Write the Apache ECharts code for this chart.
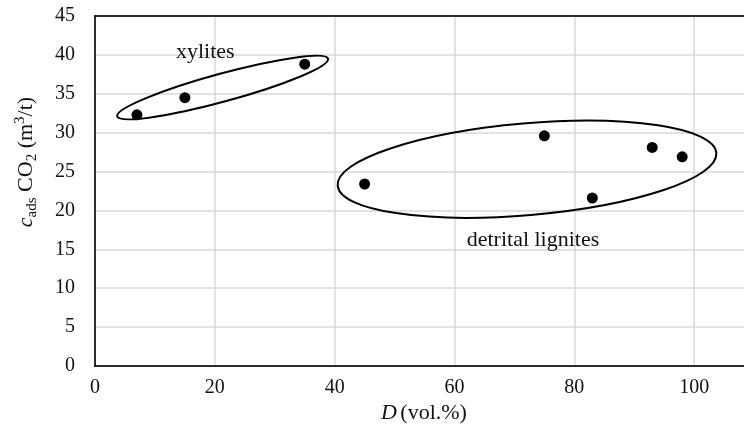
<!DOCTYPE html>
<html>
<head>
<meta charset="utf-8">
<script src="https://cdn.jsdelivr.net/npm/echarts@6/dist/echarts.min.js"></script>
<style>
  html, body { margin: 0; padding: 0; background: #fff; }
  #chart { width: 744px; height: 441px; }
</style>
</head>
<body>
<div id="chart"></div>
<script>
// D (vol.%) vs adsorbed CO2
const xyliteD = [7, 15, 35];
const xyliteC = [32.3, 34.5, 38.8];
const ligniteD = [45, 75, 83, 93, 98];
const ligniteC = [23.4, 29.6, 21.6, 28.1, 26.9];

const xTicks = [0, 20, 40, 60, 80, 100, 120];
const yTicks = [0, 5, 10, 15, 20, 25, 30, 35, 40, 45];

// group outlines: major-axis ends in data units, half width in y units
const groups = [
  { name: "xylites", ends: [[3.7, 32.1], [38.9, 39.5]], half: 1.8, label: [18.4, 40.4] },
  { name: "detrital lignites", ends: [[40.5, 23.2], [103.7, 27.4]], half: 5.9, label: [73.1, 16.2] }
];

const FONT = "'Liberation Serif', 'DejaVu Serif', serif";
const chart = echarts.init(document.getElementById("chart"));

const ellipseItem = (g) => (params, api) => {
  const p1 = api.coord(g.ends[0]);
  const p2 = api.coord(g.ends[1]);
  const dx = p2[0] - p1[0], dy = p2[1] - p1[1];
  const rx = Math.sqrt(dx * dx + dy * dy) / 2;
  const ry = api.size([0, g.half])[1];
  const lp = api.coord(g.label);
  return {
    type: "group",
    children: [
      {
        type: "ellipse",
        x: (p1[0] + p2[0]) / 2,
        y: (p1[1] + p2[1]) / 2,
        rotation: -Math.atan2(dy, dx),
        shape: { cx: 0, cy: 0, rx: rx, ry: ry },
        style: { fill: "none", stroke: "#000", lineWidth: 2 }
      },
      {
        type: "text",
        x: lp[0], y: lp[1],
        style: {
          text: g.name, fill: "#111", font: "22px " + FONT,
          align: "center", verticalAlign: "middle"
        }
      }
    ]
  };
};

const axisBase = {
  type: "value",
  min: xTicks[0], max: xTicks[xTicks.length - 1], interval: 20
};

const option = {
  animation: false,
  grid: {
    left: 95, top: 16, bottom: 75, right: -70,
    outerBoundsMode: "none",
    containLabel: false,
    show: true, borderColor: "#000", borderWidth: 1.5
  },
  xAxis: [
    {
      ...axisBase,
      axisLine: { show: true, lineStyle: { color: "#000", width: 1.5 } },
      axisTick: { show: false },
      axisLabel: { color: "#111", fontFamily: FONT, fontSize: 20, margin: 12 },
      splitLine: { lineStyle: { color: "#d9d9d9", width: 1.5 } }
    },
    {
      // top frame line, drawn above the gridlines
      ...axisBase,
      position: "top",
      axisLine: { show: true, lineStyle: { color: "#000", width: 1.5 } },
      axisTick: { show: false },
      axisLabel: { show: false },
      splitLine: { show: false }
    }
  ],
  yAxis: {
    type: "value",
    min: yTicks[0], max: yTicks[yTicks.length - 1], interval: 5,
    axisLine: { show: true, lineStyle: { color: "#000", width: 1.5 } },
    axisTick: { show: false },
    axisLabel: { color: "#111", fontFamily: FONT, fontSize: 20, margin: 20 },
    splitLine: { lineStyle: { color: "#d9d9d9", width: 1.5 } }
  },
  graphic: [
    {
      type: "text", x: 424, y: 413,
      style: {
        text: "{i|D} {n|(vol.%)}", align: "center", verticalAlign: "middle",
        rich: {
          i: { fontFamily: FONT, fontSize: 22, fontStyle: "italic", fill: "#111" },
          n: { fontFamily: FONT, fontSize: 22, fill: "#111" }
        }
      }
    },
    {
      type: "text", x: 26, y: 162, rotation: Math.PI / 2,
      style: {
        text: "{i|c}{sub|ads}{n| CO}{sub|2}{n| (m}{sup|3}{n|/t)}",
        align: "center", verticalAlign: "middle",
        rich: {
          i: { fontFamily: FONT, fontSize: 22, fontStyle: "italic", fill: "#111", lineHeight: 27, verticalAlign: "middle" },
          n: { fontFamily: FONT, fontSize: 22, fill: "#111", lineHeight: 27, verticalAlign: "middle" },
          sub: { fontFamily: FONT, fontSize: 15, fill: "#111", lineHeight: 15, verticalAlign: "bottom" },
          sup: { fontFamily: FONT, fontSize: 15, fill: "#111", lineHeight: 15, verticalAlign: "top" }
        }
      }
    }
  ],
  series: [
    {
      type: "scatter",
      data: xyliteD.map((d, i) => [d, xyliteC[i]]),
      symbolSize: 11,
      itemStyle: { color: "#000", opacity: 1 }
    },
    {
      type: "scatter",
      data: ligniteD.map((d, i) => [d, ligniteC[i]]),
      symbolSize: 11,
      itemStyle: { color: "#000", opacity: 1 }
    },
    ...groups.map((g) => ({
      type: "custom",
      silent: true,
      data: [g.label],
      renderItem: ellipseItem(g)
    }))
  ]
};

chart.setOption(option);
</script>
</body>
</html>
